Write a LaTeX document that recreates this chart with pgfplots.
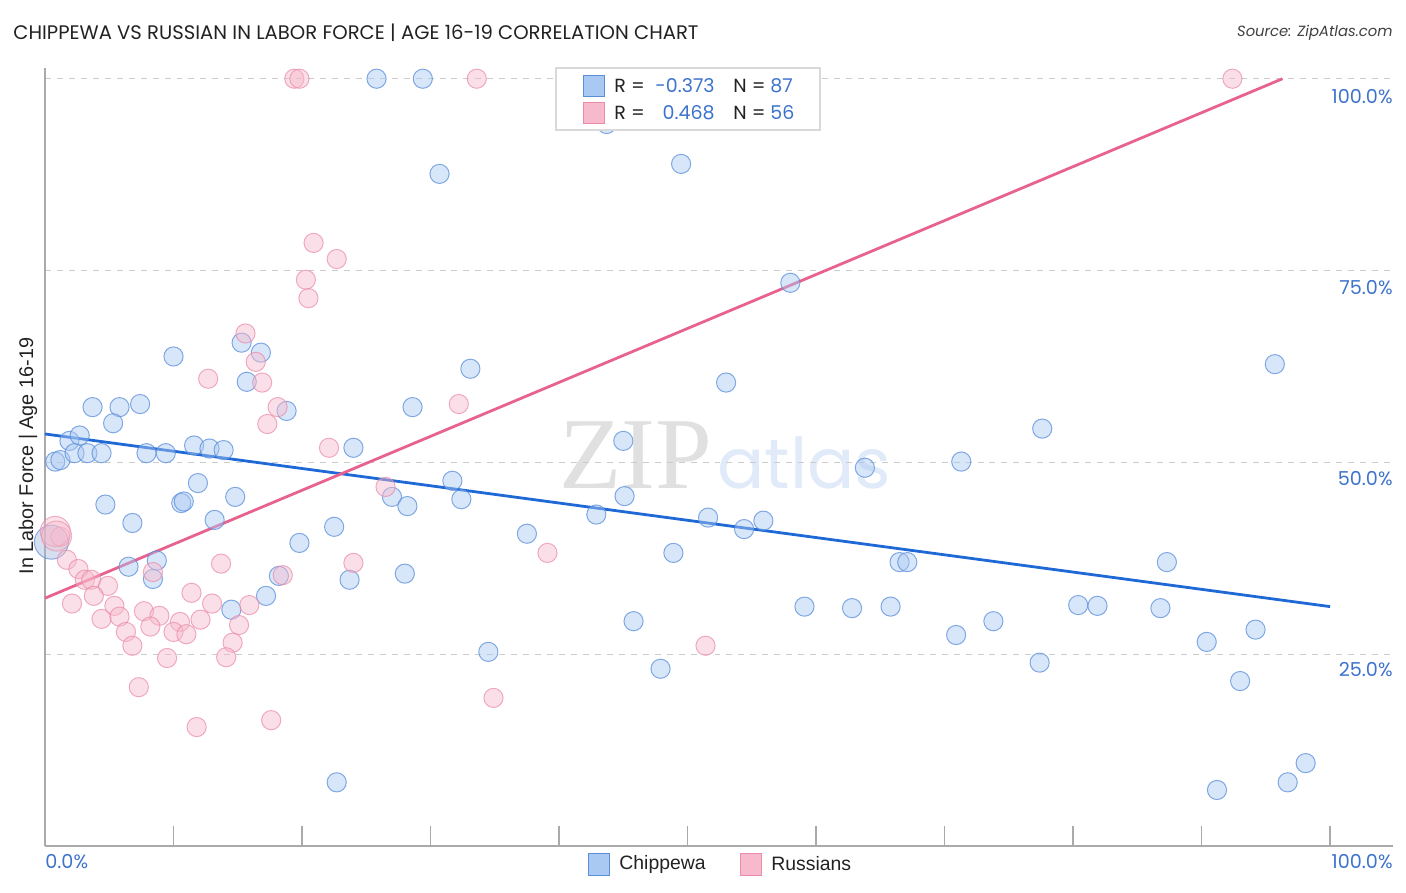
\documentclass[border=0pt]{standalone}
\usepackage{pgfplots}
\pgfplotsset{compat=1.18}
\usepackage{fontspec}
\setmainfont{Poppins}
\newfontfamily\serifwm{Liberation Serif}
\newfontfamily\arialf{Liberation Sans}
\definecolor{chipfill}{HTML}{A9C8F2}
\definecolor{chipedge}{HTML}{5B8FDB}
\definecolor{chipline}{HTML}{1F69D6}
\definecolor{rusfill}{HTML}{F7B9CC}
\definecolor{rusedge}{HTML}{E98BA9}
\definecolor{rusline}{HTML}{E8628F}
\definecolor{ticklab}{HTML}{3D73CC}
\definecolor{axgray}{HTML}{AAAAAA}
\definecolor{titlecol}{HTML}{222222}

\pgfplotstableread{
x y
25.8 100
29.4 100
43.7 94.1
49.5 88.9
30.7 87.6
58.0 73.4
10.0 63.8
15.3 65.6
16.8 64.3
15.7 60.5
33.1 62.2
53.0 60.4
95.7 62.8
3.7 57.2
5.8 57.2
7.4 57.6
5.3 55.1
18.8 56.7
28.6 57.2
77.6 54.4
1.9 52.8
2.7 53.5
0.8 50.1
1.2 50.3
2.3 51.2
3.3 51.2
4.4 51.2
7.9 51.2
9.4 51.2
11.6 52.2
12.8 51.8
13.9 51.6
24.0 51.9
45.0 52.8
63.8 49.3
71.3 50.1
31.7 47.6
11.9 47.3
4.7 44.5
10.6 44.7
10.8 44.9
14.8 45.5
27.0 45.5
28.2 44.3
32.4 45.2
45.1 45.6
42.9 43.2
13.2 42.5
6.8 42.1
22.5 41.6
51.6 42.8
54.4 41.3
55.9 42.4
37.5 40.7
19.8 39.5
48.9 38.2
6.5 36.4
8.7 37.2
8.4 34.8
18.2 35.2
23.7 34.7
28.0 35.5
66.5 37.0
67.1 37.0
87.3 37.0
17.2 32.6
14.5 30.8
59.1 31.2
62.8 31.0
65.8 31.2
80.4 31.4
81.9 31.3
86.8 31.0
45.8 29.3
73.8 29.3
70.9 27.5
94.2 28.2
90.4 26.6
34.5 25.3
47.9 23.1
77.4 23.9
93.0 21.5
98.1 10.8
96.7 8.3
22.7 8.3
91.2 7.3
}\chipdata

\pgfplotstableread{
x y
0.5 39.6
}\chipbig

\pgfplotstableread{
x y
19.4 100
19.8 100
33.6 100
92.4 100
20.9 78.6
22.7 76.5
20.3 73.8
20.5 71.4
15.6 66.8
16.4 63.1
12.7 60.9
16.9 60.4
18.1 57.2
32.2 57.6
17.3 55.0
22.1 51.9
26.5 46.8
1.2 40.3
1.7 37.3
39.1 38.2
24.0 36.9
13.7 36.8
2.6 36.1
3.1 34.7
3.6 34.7
8.4 35.7
18.5 35.3
4.9 33.9
3.8 32.6
11.4 33.0
2.1 31.6
5.4 31.3
13.0 31.6
15.9 31.4
4.4 29.6
5.8 29.9
7.7 30.6
8.9 30.0
10.5 29.2
12.1 29.5
15.1 28.8
6.3 27.9
8.2 28.6
10.0 27.9
11.0 27.6
6.8 26.1
14.6 26.5
9.5 24.5
14.1 24.6
51.4 26.1
7.3 20.7
34.9 19.3
11.8 15.5
17.6 16.4
}\rusdata

\pgfplotstableread{
x y
0.8 41.0
0.9 40.4
}\rusbig

\begin{document}
\begin{tikzpicture}[x=0.5bp,y=0.5bp]
\useasboundingbox (0,0) rectangle (1406,892);

% watermark
\node[anchor=east, inner sep=0, text=black!12] at (713,437) {\fontsize{51bp}{51bp}\serifwm ZIP};
\node[anchor=west, inner sep=0, text=chipline!14] at (717,429) {\fontsize{35bp}{35bp}\selectfont atlas};

\begin{axis}[
  at={(22.5bp,23bp)}, anchor=south west,
  scale only axis, width=674bp, height=389bp,
  xmin=0, xmax=104.9, ymin=0, ymax=101.4,
  axis x line*=bottom, axis y line*=left,
  axis line style={axgray, line width=0.8pt},
  xtick={0,10,...,100}, xticklabels={},
  tick align=inside, major tick length=10bp,
  xtick style={axgray, line width=0.6pt},
  ytick={25,50,75,100}, yticklabels={},
  ytick style={draw=none},
  ymajorgrids, grid style={dashed, black!20, line width=0.5pt},
  clip=false,
]
\addplot[only marks, mark=*, mark size=4.8bp,
  mark options={fill=chipfill, draw=chipedge, fill opacity=0.45, draw opacity=0.75, line width=0.5pt}]
  table[x=x,y=y]{\chipdata};
\addplot[only marks, mark=*, mark size=8.5bp,
  mark options={fill=chipfill!80!gray, draw=chipedge, fill opacity=0.45, draw opacity=0.7, line width=0.5pt}]
  table[x=x,y=y]{\chipbig};
\addplot[only marks, mark=*, mark size=4.8bp,
  mark options={fill=rusfill, draw=rusedge, fill opacity=0.45, draw opacity=0.7, line width=0.5pt}]
  table[x=x,y=y]{\rusdata};
\addplot[only marks, mark=*, mark size=7.5bp,
  mark options={fill=rusfill, draw=rusedge, fill opacity=0.4, draw opacity=0.65, line width=0.5pt}]
  table[x=x,y=y]{\rusbig};
\addplot[chipline, line width=1.4pt] coordinates {(0,53.7) (100,31.2)};
\addplot[rusline, line width=1.4pt] coordinates {(0,32.3) (96.3,100)};
\end{axis}

% y tick labels
\foreach \yy/\lab in {795/100.0, 604/75.0, 413/50.0, 222/25.0}{
  \node[anchor=east, inner sep=0, text=ticklab] at (1393,\yy) {\fontsize{9.6bp}{11bp}\selectfont \lab\%};
}
% x tick labels
\node[anchor=west, inner sep=0, text=ticklab] at (45,30) {\fontsize{9.6bp}{11bp}\selectfont 0.0\%};
\node[anchor=east, inner sep=0, text=ticklab] at (1393,30) {\fontsize{9.6bp}{11bp}\selectfont 100.0\%};

% title and source
\node[anchor=west, inner sep=0, text=titlecol] at (13,859) {\fontsize{9.8bp}{11bp}\selectfont CHIPPEWA VS RUSSIAN IN LABOR FORCE | AGE 16-19 CORRELATION CHART};
\node[anchor=east, inner sep=0, text=black!75] at (1393,859) {\fontsize{7.4bp}{9bp}\selectfont\itshape Source: ZipAtlas.com};

% y label
\node[rotate=90, inner sep=0, text=titlecol] at (28,436) {\fontsize{9.9bp}{11bp}\arialf In Labor Force | Age 16-19};

% top legend
\draw[black!15, fill=white, line width=0.6pt] (556,824) rectangle (820,762);
\draw[chipedge, fill=chipfill, line width=0.5pt] (583,816) rectangle (604,795);
\draw[rusedge, fill=rusfill, line width=0.5pt] (583,789) rectangle (604,768);
\node[anchor=west, inner sep=0, text=titlecol] at (614,806) {\fontsize{9.5bp}{11bp}\selectfont R =};
\node[anchor=west, inner sep=0, text=titlecol] at (614,779) {\fontsize{9.5bp}{11bp}\selectfont R =};
\node[anchor=east, inner sep=0, text=ticklab] at (715,806) {\fontsize{9.5bp}{11bp}\selectfont -0.373};
\node[anchor=east, inner sep=0, text=ticklab] at (715,779) {\fontsize{9.5bp}{11bp}\selectfont 0.468};
\node[anchor=west, inner sep=0, text=titlecol] at (733,806) {\fontsize{9.5bp}{11bp}\selectfont N =};
\node[anchor=west, inner sep=0, text=titlecol] at (733,779) {\fontsize{9.5bp}{11bp}\selectfont N =};
\node[anchor=west, inner sep=0, text=ticklab] at (770,806) {\fontsize{9.5bp}{11bp}\selectfont 87};
\node[anchor=west, inner sep=0, text=ticklab] at (770,779) {\fontsize{9.5bp}{11bp}\selectfont 56};

% bottom legend
\draw[chipedge, fill=chipfill, line width=0.5pt] (588,39) rectangle (609,17);
\node[anchor=west, inner sep=0, text=titlecol] at (619,28) {\fontsize{9.7bp}{11bp}\arialf Chippewa};
\draw[rusedge, fill=rusfill, line width=0.5pt] (740,39) rectangle (761,17);
\node[anchor=west, inner sep=0, text=titlecol] at (771,28) {\fontsize{9.7bp}{11bp}\arialf Russians};
\end{tikzpicture}
\end{document}
